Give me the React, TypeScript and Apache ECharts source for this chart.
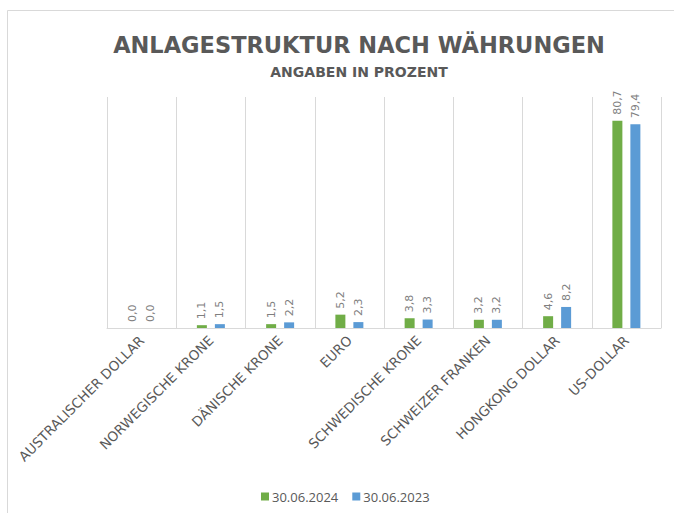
import React, { useEffect, useRef } from "react";
import * as echarts from "echarts";

const categories = [
  "AUSTRALISCHER DOLLAR",
  "NORWEGISCHE KRONE",
  "DÄNISCHE KRONE",
  "EURO",
  "SCHWEDISCHE KRONE",
  "SCHWEIZER FRANKEN",
  "HONGKONG DOLLAR",
  "US-DOLLAR",
];
const values2024 = [0.0, 1.1, 1.5, 5.2, 3.8, 3.2, 4.6, 80.7];
const values2023 = [0.0, 1.5, 2.2, 2.3, 3.3, 3.2, 8.2, 79.4];
const seriesNames = ["30.06.2024", "30.06.2023"];
const titleText = "ANLAGESTRUKTUR NACH WÄHRUNGEN";
const subtitleText = "ANGABEN IN PROZENT";

const GREEN = "#70AD47";
const BLUE = "#5B9BD5";
const TEXT = "#595959";
const GRID = "#d9d9d9";

export default function App() {
  const ref = useRef<HTMLDivElement>(null);
  useEffect(() => {
    if (!ref.current) return;
    const chart = echarts.init(ref.current, null, { renderer: "svg" });
    const label = {
      show: true,
      position: "top",
      rotate: 90,
      align: "left",
      verticalAlign: "middle",
      distance: 6,
      fontSize: 11,
      color: "#7f7f7f",
      fontFamily: "DejaVu Sans",
      formatter: (p: any) => Number(p.value).toFixed(1).replace(".", ","),
    };
    chart.setOption({
      animation: false,
      graphic: [
        {
          type: "rect",
          shape: { x: 7.5, y: 10.5, width: 700, height: 600 },
          style: { fill: "none", stroke: GRID, lineWidth: 1 },
          silent: true,
        },
        {
          type: "text",
          x: 359,
          y: 45,
          style: {
            text: titleText,
            fill: TEXT,
            font: "bold 22.5px 'DejaVu Sans'",
            textAlign: "center",
            textVerticalAlign: "middle",
          },
        },
        {
          type: "text",
          x: 359,
          y: 72,
          style: {
            text: subtitleText,
            fill: TEXT,
            font: "bold 14px 'DejaVu Sans'",
            textAlign: "center",
            textVerticalAlign: "middle",
          },
        },
      ],
      legend: {
        data: seriesNames,
        left: 256,
        top: 485,
        icon: "rect",
        itemWidth: 8,
        itemHeight: 8,
        itemGap: 14,
        textStyle: { color: TEXT, fontSize: 13, fontFamily: "Open Sans", padding: [0, 0, 0, -2] },
      },
      grid: { left: 107, right: 13, top: 97, bottom: 185, containLabel: false },
      xAxis: {
        type: "category",
        data: categories,
        axisTick: { show: false },
        axisLine: { show: true, lineStyle: { color: GRID } },
        splitLine: { show: true, lineStyle: { color: GRID } },
        axisLabel: {
          interval: 0,
          rotate: 45,
          margin: 10,
          color: TEXT,
          fontSize: 13.5,
          fontFamily: "DejaVu Sans",
        },
      },
      yAxis: {
        type: "value",
        min: 0,
        max: 90,
        show: false,
        splitLine: { show: false },
      },
      series: [
        {
          name: seriesNames[0],
          type: "bar",
          data: values2024,
          barWidth: 10,
          barGap: "80%",
          itemStyle: { color: GREEN },
          label,
        },
        {
          name: seriesNames[1],
          type: "bar",
          data: values2023,
          barWidth: 10,
          itemStyle: { color: BLUE },
          label,
        },
      ],
    });
    return () => chart.dispose();
  }, []);
  return (
    <div
      ref={ref}
      style={{ position: "fixed", left: 0, top: 0, width: 674, height: 513, background: "#fff" }}
    />
  );
}
